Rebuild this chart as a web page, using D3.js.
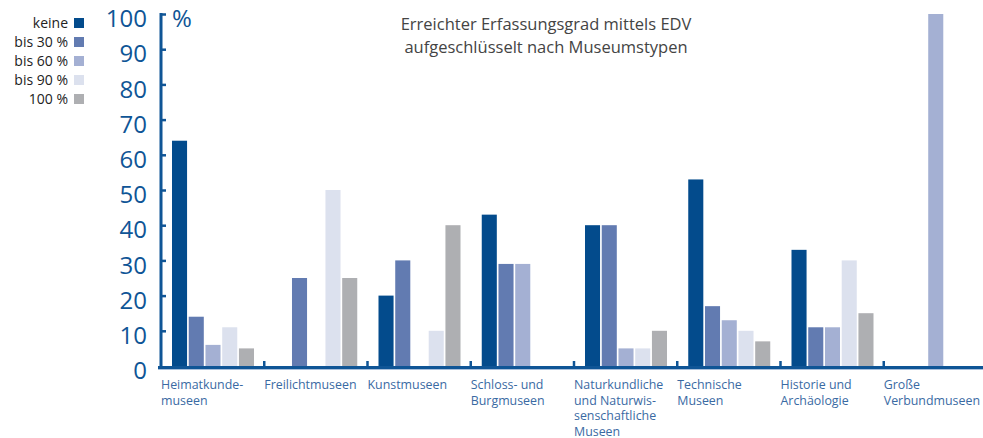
<html>
<head>
<script src="https://cdnjs.cloudflare.com/ajax/libs/d3/7.8.5/d3.min.js"></script>
<style>
  body { margin: 0; background: #fff; }
  svg { display: block; font-family: 'Open Sans', sans-serif; }
</style>
</head>
<body>
<svg width="983" height="438"></svg>
<script>
  const categories = [
    ['Heimatkunde-', 'museen'],
    ['Freilichtmuseen'],
    ['Kunstmuseen'],
    ['Schloss- und', 'Burgmuseen'],
    ['Naturkundliche', 'und Naturwis-', 'senschaftliche', 'Museen'],
    ['Technische', 'Museen'],
    ['Historie und', 'Archäologie'],
    ['Große', 'Verbundmuseen']
  ]
  const seriesNames = ['keine', 'bis 30 %', 'bis 60 %', 'bis 90 %', '100 %']
  const seriesColors = ['#034b8c', '#627bb1', '#a4b0d3', '#dce1ee', '#aeafb2']
  const keine  = [64, 0, 20, 43, 40, 53, 33, 0]
  const bis30  = [14, 25, 30, 29, 40, 17, 11, 0]
  const bis60  = [6, 0, 0, 29, 5, 13, 11, 100]
  const bis90  = [11, 50, 10, 0, 5, 10, 30, 0]
  const full   = [5, 25, 40, 0, 10, 7, 15, 0]
  const yTicks = [0, 10, 20, 30, 40, 50, 60, 70, 80, 90, 100]
  const titleLines = ['Erreichter Erfassungsgrad mittels EDV', 'aufgeschlüsselt nach Museumstypen']

  const series = [keine, bis30, bis60, bis90, full]
  const axisBlue = '#0f5596'
  const plotLeft = 161, plotRight = 987, plotTop = 14, plotBottom = 366

  const svg = d3.select('svg')

  const y = d3.scaleLinear().domain([0, 100]).range([plotBottom, plotTop])
  const x0 = d3.scaleBand().domain(d3.range(categories.length)).range([plotLeft, plotRight]).padding(0)
  const x1 = d3.scaleBand().domain(d3.range(seriesNames.length)).range([11, 93]).paddingInner(0.1).paddingOuter(0)

  // bars
  const groups = svg.append('g').selectAll('g')
    .data(categories).enter().append('g')
    .attr('transform', (_, i) => `translate(${x0(i)},0)`)
  groups.selectAll('rect')
    .data((_, i) => series.map((s, k) => ({ k, v: s[i] })).filter(d => d.v > 0))
    .enter().append('rect')
    .attr('x', d => x1(d.k))
    .attr('y', d => y(d.v))
    .attr('width', x1.bandwidth())
    .attr('height', d => plotBottom - y(d.v))
    .attr('fill', d => seriesColors[d.k])

  // y axis
  const yAxis = d3.axisRight(y).tickValues(yTicks).tickSize(5).tickFormat('')
  const ya = svg.append('g').attr('transform', `translate(${plotLeft},0)`).call(yAxis)
  ya.select('.domain').attr('stroke', axisBlue).attr('stroke-width', 3).attr('d', `M0,${plotTop - 1}V${plotBottom + 1}`)
  ya.selectAll('.tick line').attr('stroke', axisBlue).attr('stroke-width', 2.5)
  ya.selectAll('.tick').filter(d => d === 0).remove()
  svg.append('g').selectAll('text').data(yTicks).enter().append('text')
    .attr('x', 147).attr('y', d => y(d) + 4.5).attr('dy', '0.36em')
    .attr('text-anchor', 'end').attr('font-size', 24).attr('fill', axisBlue)
    .text(d => d)
  svg.append('text').attr('x', 172).attr('y', y(100) + 4.5).attr('dy', '0.36em')
    .attr('font-size', 24).attr('fill', axisBlue).text('%')

  // x axis
  svg.append('line').attr('x1', plotLeft - 3).attr('x2', 983).attr('y1', plotBottom + 1.5).attr('y2', plotBottom + 1.5)
    .attr('stroke', axisBlue).attr('stroke-width', 3)
  svg.append('line').attr('x1', plotLeft - 3).attr('x2', 983).attr('y1', plotBottom + 3.5).attr('y2', plotBottom + 3.5)
    .attr('stroke', '#a9c0dc').attr('stroke-width', 1)
  svg.append('g').selectAll('line').data(d3.range(1, categories.length)).enter().append('line')
    .attr('x1', i => x0(i)).attr('x2', i => x0(i))
    .attr('y1', plotBottom - 5).attr('y2', plotBottom)
    .attr('stroke', axisBlue).attr('stroke-width', 2.5)

  // category labels
  const labels = svg.append('g').selectAll('text').data(categories).enter().append('text')
    .attr('x', (_, i) => x0(i)).attr('y', 389)
    .attr('font-size', 12.4).attr('fill', '#3a6aa3')
  labels.selectAll('tspan').data(d => d).enter().append('tspan')
    .attr('x', function () { return this.parentNode.getAttribute('x') })
    .attr('dy', (_, j) => j === 0 ? 0 : 15.7)
    .text(d => d)

  // title
  svg.append('g').selectAll('text').data(titleLines).enter().append('text')
    .attr('x', 546).attr('y', (_, i) => 30 + i * 23)
    .attr('text-anchor', 'middle').attr('font-size', 16.5).attr('fill', '#444')
    .text(d => d)

  // legend
  const legend = svg.append('g').selectAll('g').data(seriesNames).enter().append('g')
    .attr('transform', (_, i) => `translate(0,${23 + i * 19})`)
  legend.append('rect').attr('x', 74).attr('y', -5).attr('width', 10).attr('height', 10)
    .attr('fill', (_, i) => seriesColors[i])
  legend.append('text').attr('x', 68).attr('dy', '0.36em').attr('text-anchor', 'end')
    .attr('font-size', 14).attr('fill', '#222').text(d => d)
</script>
</body>
</html>
